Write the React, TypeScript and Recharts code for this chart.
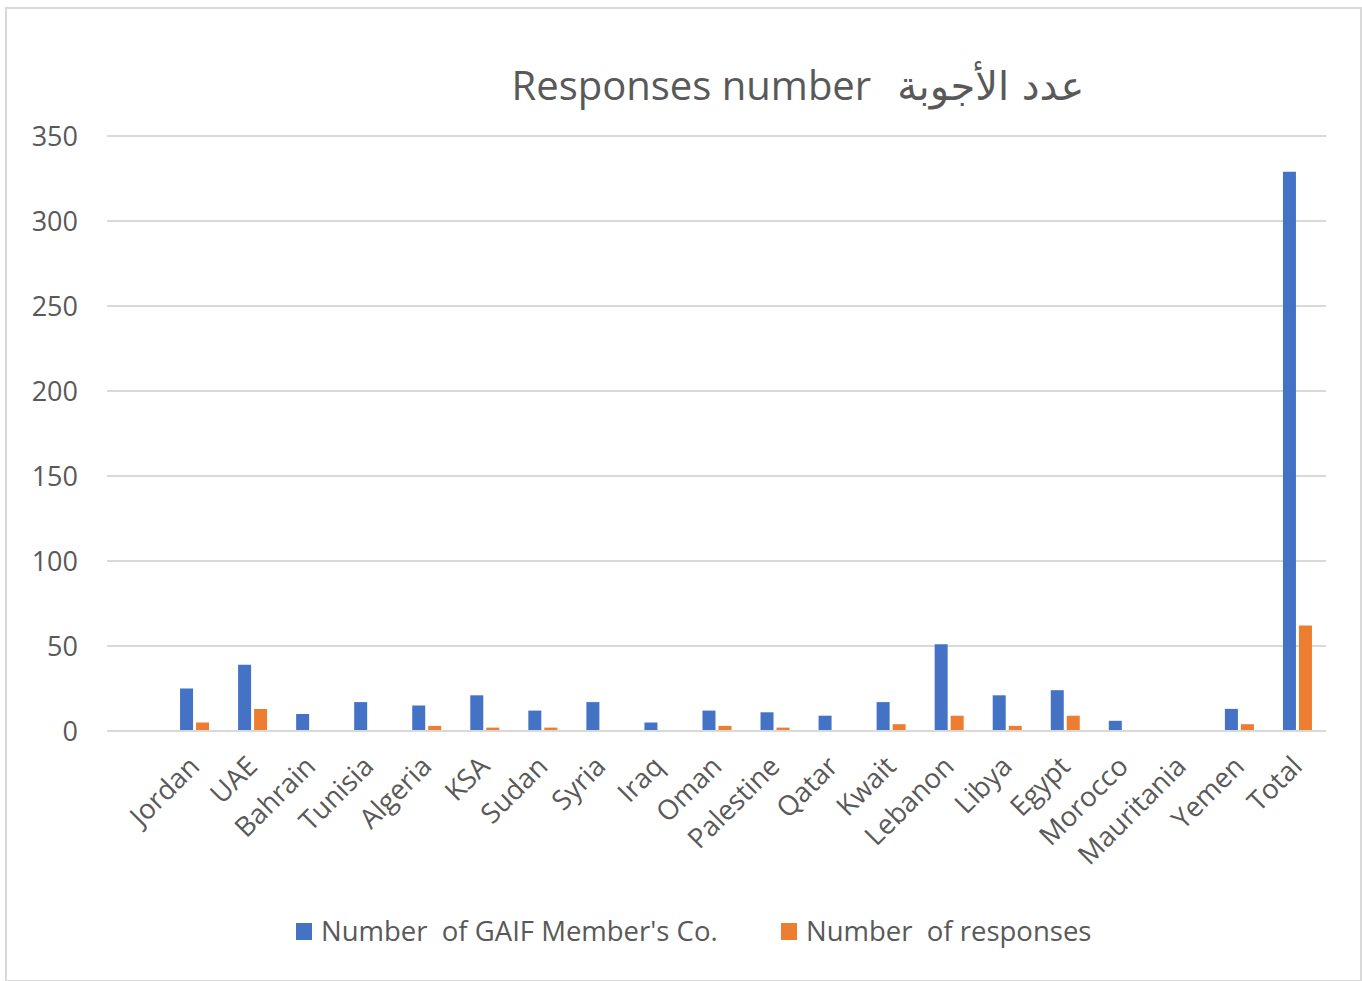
import React from 'react'
import { BarChart, Bar, XAxis, YAxis, CartesianGrid } from 'recharts'

const countries = [
  '',
  'Jordan',
  'UAE',
  'Bahrain',
  'Tunisia',
  'Algeria',
  'KSA',
  'Sudan',
  'Syria',
  'Iraq',
  'Oman',
  'Palestine',
  'Qatar',
  'Kwait',
  'Lebanon',
  'Libya',
  'Egypt',
  'Morocco',
  'Mauritania',
  'Yemen',
  'Total',
]
const members = [null, 25, 39, 10, 17, 15, 21, 12, 17, 5, 12, 11, 9, 17, 51, 21, 24, 6, 0, 13, 329]
const responses = [null, 5, 13, 0, 0, 3, 2, 2, 0, 0, 3, 2, 0, 4, 9, 3, 9, 0, 0, 4, 62]
const yTicks = [0, 50, 100, 150, 200, 250, 300, 350]

const BLUE = '#4472C4'
const ORANGE = '#ED7D31'
const TEXT = '#595959'
const FONT = '"Open Sans", "Noto Sans", sans-serif'

const data = countries.map((name, i) => ({
  name,
  members: members[i],
  responses: responses[i],
}))

function CountryTick({ x, y, payload }: { x?: number; y?: number; payload?: { value: string } }) {
  return (
    <g transform={`translate(${(x ?? 0) + 7},${(y ?? 0) + 29})`}>
      <text
        transform="rotate(-45)"
        textAnchor="end"
        fill={TEXT}
        fontSize={27.5}
        fontFamily={FONT}
      >
        {payload?.value}
      </text>
    </g>
  )
}

export default function App() {
  return (
    <div
      style={{
        position: 'absolute',
        left: 0,
        top: 0,
        width: 1362,
        height: 981,
        background: '#fff',
        fontFamily: FONT,
      }}
    >
      <div
        style={{
          position: 'absolute',
          left: 5,
          top: 7,
          width: 1353,
          height: 971,
          border: '2px solid #D9D9D9',
        }}
      />
      <div
        style={{
          position: 'absolute',
          left: 0,
          top: 58,
          width: 1362,
          textAlign: 'center',
          paddingLeft: 234,
          boxSizing: 'border-box',
          fontSize: 40,
          lineHeight: '54px',
          color: TEXT,
        }}
      >
        <span>Responses number</span>
        <span style={{ marginLeft: 26, fontFamily: '"DejaVu Sans", sans-serif' }} dir="rtl">
          عدد الأجوبة
        </span>
      </div>
      <div style={{ position: 'absolute', left: 0, top: 0 }}>
        <BarChart
          width={1362}
          height={981}
          data={data}
          margin={{ top: 136, right: 36, left: 27, bottom: 80 }}
          barGap={3}
          barSize={13}
        >
          <CartesianGrid vertical={false} stroke="#D9D9D9" strokeWidth={2} />
          <XAxis
            dataKey="name"
            interval={0}
            height={170}
            tickLine={false}
            axisLine={{ stroke: '#D9D9D9', strokeWidth: 2 }}
            tick={<CountryTick />}
          />
          <YAxis
            width={80}
            domain={[0, 350]}
            ticks={yTicks}
            axisLine={false}
            tickLine={false}
            tick={{ fill: TEXT, fontSize: 27, fontFamily: FONT }}
            tickMargin={23}
          />
          <Bar dataKey="members" fill={BLUE} isAnimationActive={false} />
          <Bar dataKey="responses" fill={ORANGE} isAnimationActive={false} />
        </BarChart>
      </div>
      <div
        style={{
          position: 'absolute',
          left: 296,
          top: 911,
          display: 'flex',
          alignItems: 'center',
          fontSize: 27.5,
          lineHeight: '40px',
          color: TEXT,
          whiteSpace: 'nowrap',
        }}
      >
        <span style={{ width: 16, height: 17, background: BLUE, marginRight: 9 }} />
        Number&nbsp; of GAIF Member's Co.
      </div>
      <div
        style={{
          position: 'absolute',
          left: 781,
          top: 911,
          display: 'flex',
          alignItems: 'center',
          fontSize: 27.5,
          lineHeight: '40px',
          color: TEXT,
          whiteSpace: 'nowrap',
        }}
      >
        <span style={{ width: 16, height: 17, background: ORANGE, marginRight: 9 }} />
        Number&nbsp; of responses
      </div>
    </div>
  )
}
